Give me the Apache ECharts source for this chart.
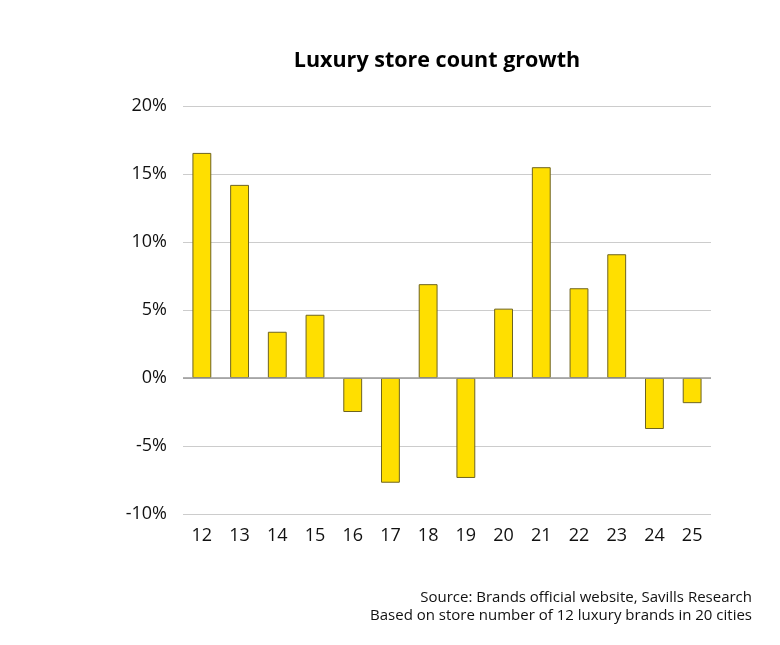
<!DOCTYPE html>
<html><head><meta charset="utf-8">
<script src="https://cdn.jsdelivr.net/npm/echarts@6/dist/echarts.min.js"></script>
<style>html,body{margin:0;padding:0;background:#fff}#c{width:780px;height:645px}</style>
</head><body><div id="c"></div>
<script>
const categories = ['12','13','14','15','16','17','18','19','20','21','22','23','24','25'];
const growth = [16.55, 14.2, 3.4, 4.65, -2.5, -7.7, 6.9, -7.35, 5.1, 15.5, 6.6, 9.1, -3.75, -1.85];
const titleText = 'Luxury store count growth';
const sourceLines = ['Source: Brands official website, Savills Research', 'Based on store number of 12 luxury brands in 20 cities'];

const FONT = 'Open Sans';
const chart = echarts.init(document.getElementById('c'));
chart.setOption({
  animation: false,
  title: {
    text: titleText, left: 432, top: 45, textAlign: 'center',
    textStyle: {fontFamily: FONT, fontWeight: 'bold', fontSize: 21.5, color: '#000'}
  },
  graphic: sourceLines.map((t, i) => ({
    type: 'text', x: 752, y: 590 + i * 18,
    style: {text: t, fontFamily: FONT, fontSize: 15, fill: '#111', align: 'right', verticalAlign: 'top'}
  })),
  grid: {left: 183, right: 69, top: 106, bottom: 131, containLabel: false},
  xAxis: {
    type: 'category', data: categories,
    axisLine: {show: false}, axisTick: {show: false},
    axisLabel: {fontFamily: FONT, fontSize: 18, color: '#111', margin: 13}
  },
  yAxis: {
    type: 'value', min: -10, max: 20, interval: 5,
    axisLine: {show: false}, axisTick: {show: false},
    axisLabel: {formatter: '{value}%', fontFamily: FONT, fontSize: 18, color: '#111', margin: 16},
    splitLine: {lineStyle: {color: '#cccccc', width: 1}}
  },
  series: [{
    type: 'bar', data: growth, barWidth: '50%',
    itemStyle: {color: '#FFDF00', borderColor: '#6e6420', borderWidth: 1},
    markLine: {
      silent: true, symbol: 'none', label: {show: false},
      lineStyle: {color: '#999999', width: 1.5, type: 'solid'},
      data: [{yAxis: 0}]
    }
  }]
});
</script></body></html>
